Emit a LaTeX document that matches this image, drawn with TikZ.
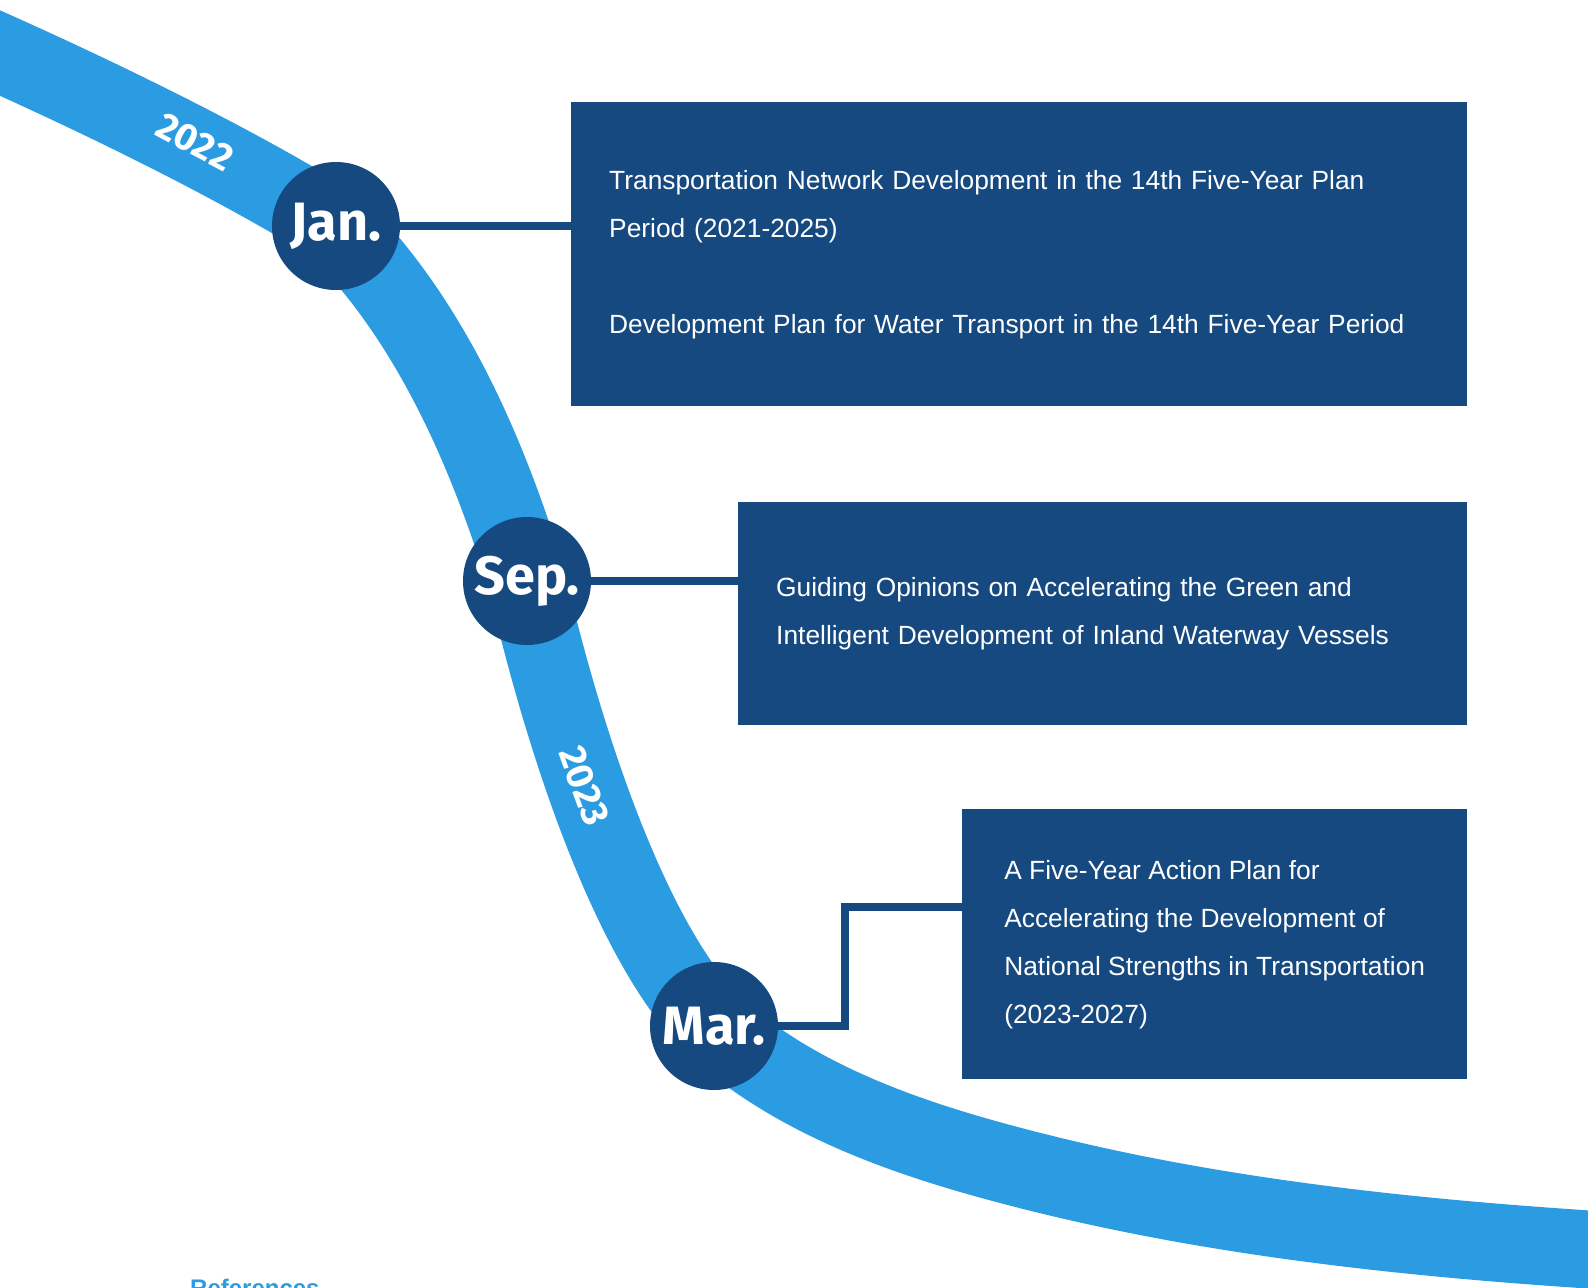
\documentclass[tikz,border=0pt]{standalone}
\usepackage{fontspec}
\setmainfont{Liberation Sans}
\newfontfamily\monthfont{Fira Sans}
\usetikzlibrary{calc}

\definecolor{ribbon}{RGB}{43,156,226}
\definecolor{deepblue}{RGB}{22,73,127}

\begin{document}
\begin{tikzpicture}[
  x=1pt, y=-1pt,
  band/.style={draw=ribbon, line width=78pt},
  month/.style={circle, fill=deepblue, text=white, minimum size=128pt, inner sep=0pt,
                font=\monthfont\bfseries\fontsize{54}{54}\selectfont},
  year/.style={text=white, inner sep=0pt,
               font=\monthfont\bfseries\fontsize{38}{38}\selectfont},
  doc/.style={rectangle, fill=deepblue, text=white, align=left, anchor=north west,
              inner xsep=38pt, inner ysep=0pt,
              font=\fontsize{26.35}{48}\selectfont},
  link/.style={draw=deepblue, line width=7.5pt},
  refs/.style={text=ribbon, inner sep=0pt, anchor=base west,
               font=\bfseries\fontsize{24}{24}\selectfont},
]

\useasboundingbox (0,0) rectangle (1588,1288);

% ---------- ribbon ----------
\draw[band] (-80,18) .. controls (49,73) and (217,152) .. (336,226)
  .. controls (431,321) and (488,453) .. (527,581)
  .. controls (563,737) and (629,941) .. (714,1026)
  .. controls (803,1106) and (924,1144) .. (1040,1173)
  .. controls (1253,1226) and (1480,1244.5) .. (1700,1256);

% ---------- years along the ribbon ----------
\node[year, rotate=-28] (y2022) at (195,142) {2022};
\node[year, rotate=-70] (y2023) at (584,786) {2023};

% ---------- months ----------
\node[month] (jan) at (336,226) {Jan.};
\node[month] (sep) at (527,581) {Sep.};
\node[month] (mar) at (714,1026) {Mar.};

% ---------- documents ----------
\node[doc, text width=820pt, minimum height=304pt] (box1) at (571,102)
  {Transportation Network Development in the 14th Five-Year Plan\\
   Period (2021-2025)\\[48pt]
   Development Plan for Water Transport in the 14th Five-Year Period};
\node[doc, text width=653pt, minimum height=223pt] (box2) at (738,502)
  {Guiding Opinions on Accelerating the Green and\\
   Intelligent Development of Inland Waterway Vessels};
\node[doc, minimum width=505pt, minimum height=270pt] (box3) at (962,809)
  {A Five-Year Action Plan for\\
   Accelerating the Development of\\
   National Strengths in Transportation\\
   (2023-2027)};

% ===== links month -> document =====
\draw[link] (jan.east) -- (jan.east -| box1.west);
\draw[link] (sep.east) -- (sep.east -| box2.west);
\draw[link] (mar.east) -- ++(67,0) |- ([yshift=-98pt]box3.north west);

% ---------- footer ----------
\node[refs] (refs) at (190,1296) {References};

\end{tikzpicture}
\end{document}
